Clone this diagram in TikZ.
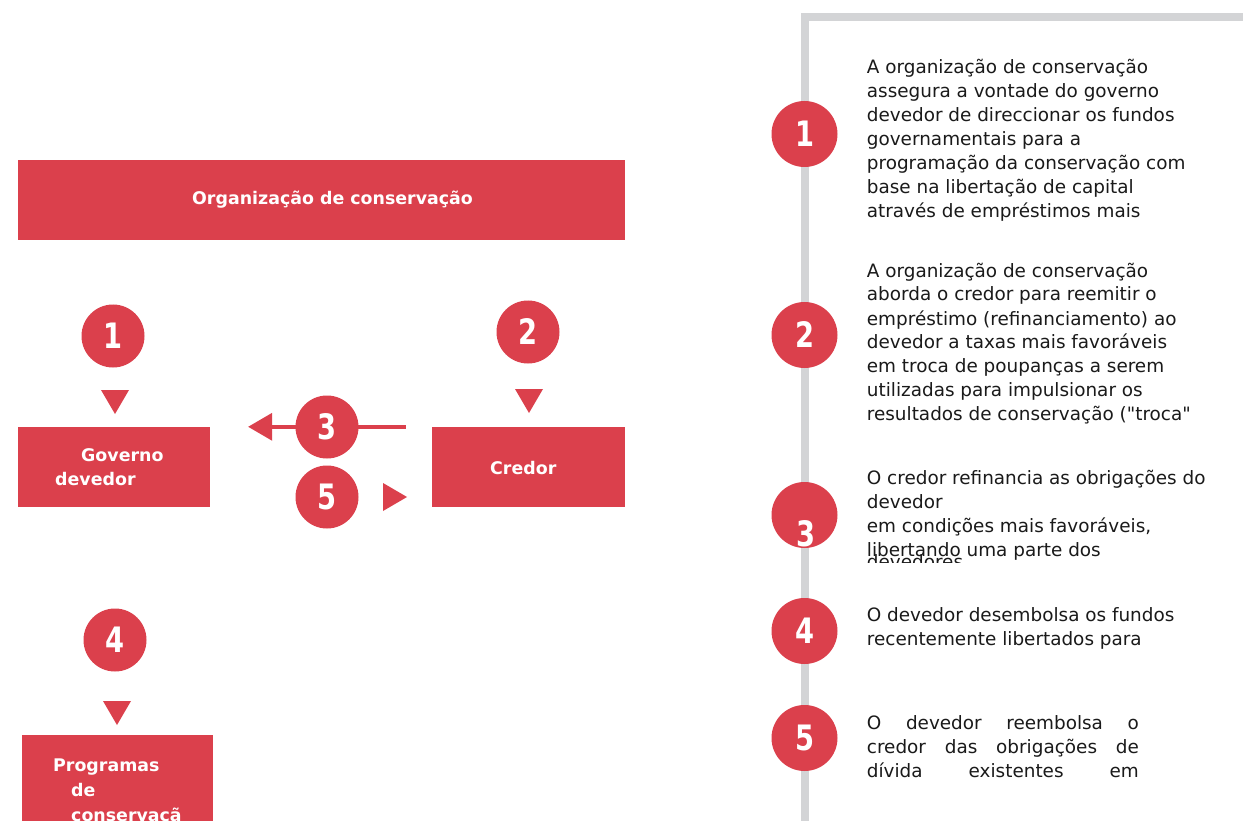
\documentclass[tikz,border=0pt]{standalone}
\usepackage{fontspec}
\setmainfont{DejaVu Sans}[Ligatures=TeXOff]
\newfontfamily\numfont{DejaVu Sans}[FakeStretch=0.78]
\definecolor{brandred}{RGB}{219,64,76}
\definecolor{railgray}{RGB}{211,212,214}
\definecolor{inkblack}{RGB}{26,26,26}
\begin{document}
\begin{tikzpicture}[x=1pt,y=-1pt,
  redbox/.style={fill=brandred, draw=none, inner sep=0pt},
  boxlabel/.style={text=white, font=\fontsize{17.4}{25}\selectfont\bfseries, inner sep=0pt, anchor=base west},
  smalldisc/.style={circle, fill=brandred, minimum size=63pt, inner sep=0pt, text=white,
     font=\numfont\bfseries\fontsize{35}{35}\selectfont, text height=25pt, text depth=0pt},
  bigdisc/.style={circle, fill=brandred, minimum size=66pt, inner sep=0pt, text=white,
     font=\numfont\bfseries\fontsize{35}{35}\selectfont, text height=25pt, text depth=0pt},
  desc/.style={inner sep=0pt, anchor=base west, text=inkblack},
  flowline/.style={draw=brandred, line width=4pt},
  tipfill/.style={fill=brandred, draw=none}
]
\clip (0,0) rectangle (1243,821);
\fill[white] (0,0) rectangle (1243,821);

% ---------- left diagram ----------
\node[redbox, minimum width=607pt, minimum height=80pt] (org) at (321.5,200) {};
\node[boxlabel] (orglabel) at (192,205) {Organização de conservação};

\node[redbox, minimum width=192pt, minimum height=80pt] (gov) at (114,467) {};
\node[boxlabel] (govl1) at (81,461) {Governo};
\node[boxlabel] (govl2) at (55,485) {devedor};

\node[redbox, minimum width=193pt, minimum height=80pt] (cred) at (528.5,467) {};
\node[boxlabel] (credl) at (490,474) {Credor};

\node[redbox, minimum width=191pt, minimum height=100pt] (prog) at (117.5,785) {};
\node[boxlabel] (progl1) at (53,771) {Programas};
\node[boxlabel] (progl2) at (71,796) {de};
\node[boxlabel] (progl3) at (71,821) {conservaçã};

% step 1
\node[smalldisc] (c1) at (113,336) {1};
\coordinate (t1tip) at (115,414);
\fill[tipfill] (t1tip) -- (101,390) -- (129,390) -- cycle;
% step 2
\node[smalldisc] (c2) at (528,332) {2};
\coordinate (t2tip) at (529,413);
\fill[tipfill] (t2tip) -- (515,389) -- (543,389) -- cycle;
% step 3 : credor -> governo
\coordinate (a3start) at ([xshift=-26pt]cred.north west);
\coordinate (a3base) at ([xshift=62pt]gov.north east);
\coordinate (a3tip) at ([xshift=38pt]gov.north east);
\draw[flowline] (a3start) -- (a3base);
\fill[tipfill] (a3tip) -- ([yshift=14pt]a3base) -- ([yshift=-14pt]a3base) -- cycle;
\node[smalldisc] (c3) at (327,427) {3};
% step 5 : governo -> credor
\node[smalldisc] (c5) at (327,497) {5};
\coordinate (t5tip) at (407,497);
\fill[tipfill] (t5tip) -- (383,483) -- (383,511) -- cycle;
% step 4
\node[smalldisc] (c4) at (115,640) {4};
\coordinate (t4tip) at (117,725);
\fill[tipfill] (t4tip) -- (103,701) -- (131,701) -- cycle;

% ---------- right legend ----------
\draw[railgray, line width=8pt] (1250,17) -- (804.5,17) -- (804.5,830);

\node[bigdisc] (s1) at (804.5,134) {1};
\node[bigdisc] (s2) at (804.5,335) {2};
\node[bigdisc] (s3) at (804.5,515) {};
\begin{scope}
  \clip (770,480) rectangle (840,547);
  \node[text=white, font=\numfont\bfseries\fontsize{35}{35}\selectfont, inner sep=0pt, anchor=base] (s3num) at (806,546) {3};
\end{scope}
\node[bigdisc] (s4) at (804.5,631) {4};
\node[bigdisc] (s5) at (804.5,738) {5};

\node[desc] (d1) at (866.7,73.5) {\parbox[t]{370pt}{\fontsize{18.4}{24}\selectfont\raggedright
A organização de conservação\\
assegura a vontade do governo\\
devedor de direccionar os fundos\\
governamentais para a\\
programação da conservação com\\
base na libertação de capital\\
através de empréstimos mais}};

\node[desc] (d2) at (866.7,277) {\parbox[t]{370pt}{\fontsize{18.4}{24}\selectfont\raggedright
A organização de conservação\\
aborda o credor para reemitir o\\
empréstimo (refinanciamento) ao\\
devedor a taxas mais favoráveis\\
em troca de poupanças a serem\\
utilizadas para impulsionar os\\
resultados de conservação ("troca"}};

\node[desc] (d3) at (866.7,484) {\parbox[t]{370pt}{\fontsize{18.4}{24}\selectfont\raggedright
O credor refinancia as obrigações do\\
devedor\\
em condições mais favoráveis,\\
libertando uma parte dos}};
\begin{scope}
  \clip (860,540) rectangle (1243,562);
  \node[desc, font=\fontsize{18.4}{24}\selectfont] (d3b) at (866.7,568) {devedores};
\end{scope}

\node[desc] (d4) at (866.7,621) {\parbox[t]{370pt}{\fontsize{18.4}{24}\selectfont\raggedright
O devedor desembolsa os fundos\\
recentemente libertados para}};

\node[desc] (d5) at (866.7,729) {\parbox[t]{272pt}{\fontsize{18.4}{24}\selectfont
\makebox[272pt][s]{O devedor reembolsa o}\\
\makebox[272pt][s]{credor das obrigações de}\\
\makebox[272pt][s]{dívida existentes em}}};
\end{tikzpicture}
\end{document}
